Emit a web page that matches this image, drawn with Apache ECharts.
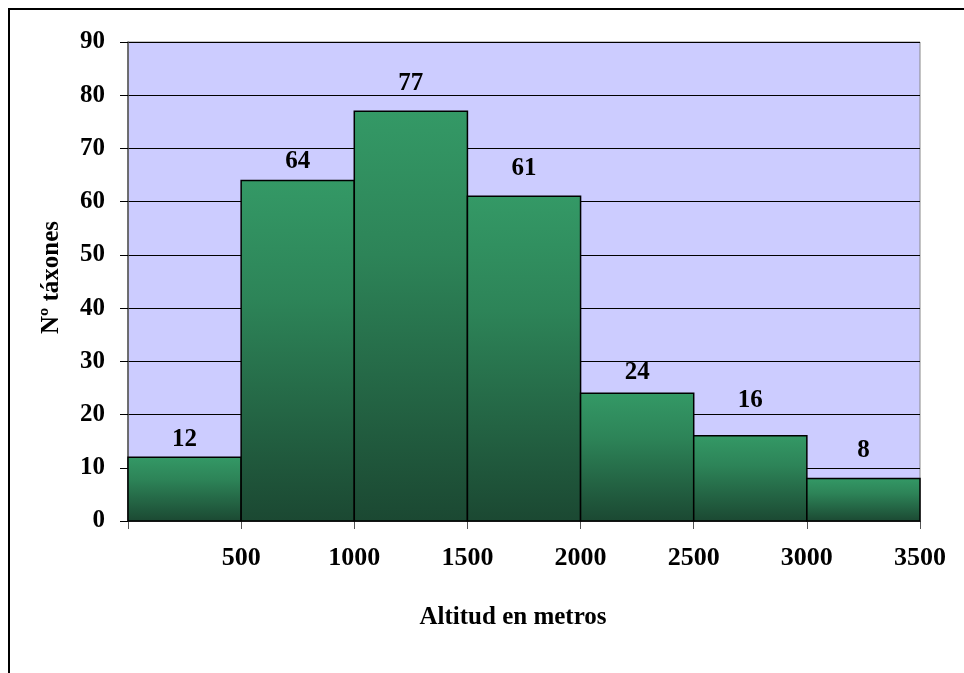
<!DOCTYPE html>
<html>
<head>
<meta charset="utf-8">
<script src="https://cdn.jsdelivr.net/npm/echarts@6/dist/echarts.min.js"></script>
<style>html,body{margin:0;padding:0;background:#fff}#c{width:964px;height:673px}</style>
</head>
<body>
<div id="c"></div>
<script>
// Altitude bands (metres) and number of taxa in each band
const binStart = [0, 500, 1000, 1500, 2000, 2500, 3000];
const binEnd   = [500, 1000, 1500, 2000, 2500, 3000, 3500];
const taxa     = [12, 64, 77, 61, 24, 16, 8];

// Gap in pixels between each bar top and its value label
const labelLift = [8, 9, 18, 18, 11, 25, 18];

const FONT = '"Liberation Serif", "Times New Roman", serif';
const chart = echarts.init(document.getElementById('c'));

const data = binStart.map((s, i) => [s, binEnd[i], taxa[i]]);

chart.setOption({
  animation: false,
  graphic: [{
    type: 'rect', z: 100, silent: true,
    shape: { x: 9, y: 9, width: 1000, height: 700 },
    style: { fill: 'none', stroke: '#000', lineWidth: 2 }
  }],
  grid: { left: 128, top: 42, width: 792, height: 479, show: true,
          backgroundColor: '#ccccff', borderColor: '#888', borderWidth: 1 },
  xAxis: {
    type: 'value', min: 0, max: 3500, interval: 500,
    name: 'Altitud en metros', nameLocation: 'middle', nameGap: 84,
    nameTextStyle: { fontFamily: FONT, fontWeight: 'bold', fontSize: 25, color: '#000',
                     padding: [0, 22, 0, 0] },
    axisLine: { show: true, lineStyle: { color: '#555', width: 1 } },
    axisTick: { show: true, length: 8, lineStyle: { color: '#555' } },
    splitLine: { show: false },
    axisLabel: { fontFamily: FONT, fontWeight: 'bold', fontSize: 26, color: '#000', margin: 24,
                 formatter: v => v === 0 ? '' : String(v) }
  },
  yAxis: {
    type: 'value', min: 0, max: 90, interval: 10,
    name: 'Nº táxones', nameLocation: 'middle', nameGap: 64, nameRotate: 90,
    nameTextStyle: { fontFamily: FONT, fontWeight: 'bold', fontSize: 25, color: '#000',
                     padding: [0, 0, 0, 8] },
    axisLine: { show: true, lineStyle: { color: '#555', width: 1.5 } },
    axisTick: { show: true, length: 8, lineStyle: { color: '#000' } },
    splitLine: { show: true, lineStyle: { color: '#000', width: 1 } },
    axisLabel: { fontFamily: FONT, fontWeight: 'bold', fontSize: 25, color: '#000', margin: 23 }
  },
  series: [{
    type: 'custom',
    data: data,
    encode: { x: [0, 1], y: 2 },
    renderItem: function (params, api) {
      const p0 = api.coord([api.value(0), api.value(2)]);
      const p1 = api.coord([api.value(1), 0]);
      const x = p0[0], y = p0[1], w = p1[0] - p0[0], h = p1[1] - p0[1];
      const lift = labelLift[params.dataIndex];
      return {
        type: 'group',
        children: [{
          type: 'rect',
          shape: { x: x, y: y, width: w, height: h },
          style: {
            fill: new echarts.graphic.LinearGradient(0, 0, 0, 1, [
              { offset: 0, color: '#349966' },
              { offset: 0.35, color: '#2d8458' },
              { offset: 1, color: '#1b4832' }
            ]),
            stroke: '#000', lineWidth: 1.5
          }
        }, {
          type: 'text',
          style: {
            x: x + w / 2, y: y - lift - 10, text: String(api.value(2)),
            align: 'center', verticalAlign: 'middle',
            font: 'bold 25px ' + FONT, fill: '#000'
          }
        }]
      };
    }
  }]
});
</script>
</body>
</html>
